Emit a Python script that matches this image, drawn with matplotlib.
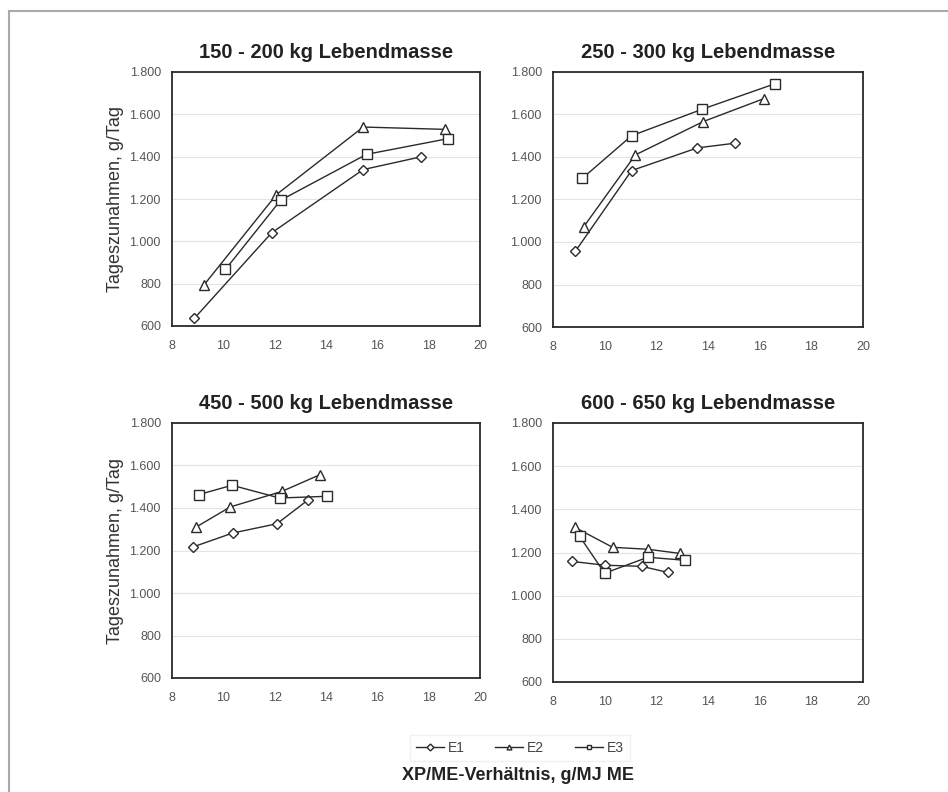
import matplotlib.pyplot as plt
from matplotlib.lines import Line2D
from matplotlib.ticker import FuncFormatter

plt.rcParams['font.family'] = ['Liberation Sans', 'DejaVu Sans']

titles = ['150 - 200 kg Lebendmasse', '250 - 300 kg Lebendmasse',
          '450 - 500 kg Lebendmasse', '600 - 650 kg Lebendmasse']
series = ['E1', 'E2', 'E3']

# x = XP/ME ratio, y = daily gain (g/Tag), per panel and series
x_e1 = [[8.87, 11.88, 15.45, 17.69], [8.87, 11.04, 13.59, 15.05],
        [8.80, 10.36, 12.09, 13.28], [8.72, 10.0, 11.43, 12.44]]
y_e1 = [[636, 1040, 1339, 1399], [957, 1336, 1443, 1465],
        [1216, 1282, 1326, 1436], [1159, 1141, 1136, 1108]]
x_e2 = [[9.24, 12.07, 15.45, 18.62], [9.19, 11.19, 13.82, 16.15],
        [8.95, 10.27, 12.28, 13.77], [8.84, 10.31, 11.67, 12.9]]
y_e2 = [[793, 1221, 1540, 1529], [1072, 1410, 1567, 1674],
        [1311, 1405, 1478, 1557], [1317, 1224, 1215, 1196]]
x_e3 = [[10.08, 12.23, 15.58, 18.75], [9.14, 11.04, 13.78, 16.6],
        [9.04, 10.34, 12.19, 14.03], [9.03, 10.0, 11.67, 13.1]]
y_e3 = [[867, 1194, 1411, 1485], [1300, 1500, 1625, 1745],
        [1463, 1507, 1447, 1455], [1275, 1104, 1178, 1164]]

xs = [x_e1, x_e2, x_e3]
ys = [y_e1, y_e2, y_e3]
markers = ['D', '^', 's']
msizes = [5.5, 7, 7]

W, H = 948, 792
fig = plt.figure(figsize=(W / 100, H / 100), dpi=100)

# axes boxes in pixels: left, top, right, bottom
boxes = [(172, 72, 480, 326), (553, 72, 863, 327),
         (172, 423, 480, 678), (553, 423, 863, 682)]

fmt = FuncFormatter(lambda v, p: f'{int(v):,}'.replace(',', '.'))
dark = '#2a2a2a'

for i, (l, t, r, b) in enumerate(boxes):
    ax = fig.add_axes([l / W, 1 - b / H, (r - l) / W, (b - t) / H])
    for k in range(3):
        ax.plot(xs[k][i], ys[k][i], color=dark, lw=1.0, marker=markers[k],
                ms=msizes[k], mfc='white', mec=dark, mew=1.0)
    ax.set_xlim(8, 20)
    ax.set_ylim(600, 1800)
    ax.set_xticks(range(8, 21, 2))
    ax.set_yticks(range(600, 1801, 200))
    ax.yaxis.set_major_formatter(fmt)
    ax.grid(axis='y', color='#e4e4e4', lw=0.8)
    ax.set_axisbelow(True)
    ax.tick_params(length=0, labelsize=9, labelcolor='#555555')
    ax.tick_params(axis='x', pad=10)
    ax.tick_params(axis='y', pad=8)
    for s in ax.spines.values():
        s.set_color(dark)
        s.set_linewidth(1.3)
    ax.set_title(titles[i], fontsize=14.5, fontweight='bold', color='#222222', pad=10)
    if i % 2 == 0:
        ax.set_ylabel('Tageszunahmen, g/Tag', fontsize=13, color='#333333', labelpad=4)

handles = [Line2D([], [], color=dark, lw=1.0, marker=markers[k], ms=3.5,
                  mfc='white', mec=dark) for k in range(3)]
fig.legend(handles, series, loc='center', bbox_to_anchor=(520 / W, 1 - 748 / H),
           ncol=3, frameon=True, fontsize=10, handlelength=2.0, columnspacing=2.2,
           handletextpad=0.3, edgecolor='#eeeeee', fancybox=False, labelcolor='#444444')
fig.text(518 / W, 1 - 775 / H, 'XP/ME-Verhältnis, g/MJ ME', ha='center', va='center',
         fontsize=13, fontweight='bold', color='#222222')

# outer frame (left and top only)
fig.add_artist(Line2D([9 / W, 9 / W], [0, 1 - 11 / H], color='#aaaaaa', lw=1.5))
fig.add_artist(Line2D([9 / W, 1], [1 - 11 / H, 1 - 11 / H], color='#aaaaaa', lw=1.5))

fig.savefig('out.png', dpi=100)
